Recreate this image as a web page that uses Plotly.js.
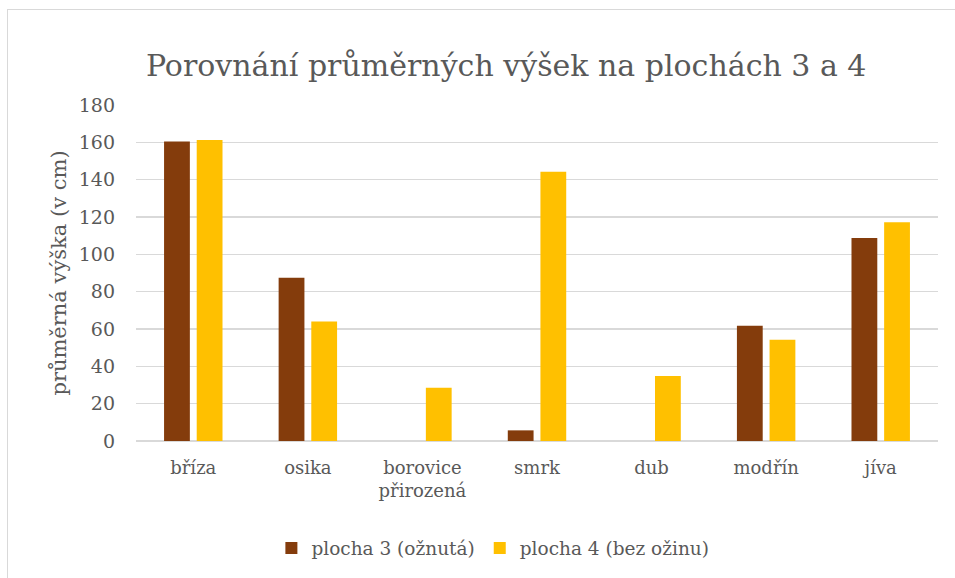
<!DOCTYPE html>
<html>
<head>
<meta charset="utf-8">
<script src="https://cdn.plot.ly/plotly-3.0.1.min.js"></script>
<style>
  html, body { margin: 0; padding: 0; background: #fff; }
  #wrap { position: relative; width: 955px; height: 578px; overflow: hidden; }
  #chart { width: 955px; height: 578px; }
  #frame { position: absolute; left: 7px; top: 9px; width: 980px; height: 600px;
           border: 1.5px solid #D9D9D9; pointer-events: none; box-sizing: border-box; }
</style>
</head>
<body>
<div id="wrap">
  <div id="chart"></div>
  <div id="frame"></div>
</div>
<script>
const categories = ["bříza", "osika", "borovice<br>přirozená", "smrk", "dub", "modřín", "jíva"];
const plocha3 = [160.5, 87.5, null, 5.7, null, 61.7, 108.8];
const plocha4 = [161.3, 64.0, 28.5, 144.3, 34.8, 54.3, 117.2];
const seriesNames = ["plocha 3 (ožnutá)", "plocha 4 (bez ožinu)"];
const yTicks = [0, 20, 40, 60, 80, 100, 120, 140, 160, 180];

const textColor = "#595959";
const fontFamily = "DejaVu Serif";

const traces = [
  { type: "bar", name: seriesNames[0], x: categories, y: plocha3,
    marker: { color: "#843C0C", line: { width: 0 } } },
  { type: "bar", name: seriesNames[1], x: categories, y: plocha4,
    marker: { color: "#FFC000", line: { width: 0 } } }
];

const layout = {
  width: 955, height: 578,
  paper_bgcolor: "#ffffff", plot_bgcolor: "#ffffff",
  margin: { l: 136, r: 17, t: 105, b: 137, autoexpand: false },
  font: { family: fontFamily, color: textColor, size: 18 },
  title: { text: "Porovnání průměrných výšek na plochách 3 a 4",
           font: { family: fontFamily, size: 30, color: textColor },
           xref: "container", x: 0.53, xanchor: "center",
           yref: "container", y: 0.887, yanchor: "middle" },
  barmode: "group", bargap: 0.43, bargroupgap: 0.21,
  xaxis: { type: "category", showgrid: false, zeroline: false, showline: false,
           ticks: "", ticklabelstandoff: 14, automargin: false,
           tickfont: { family: fontFamily, size: 18, color: textColor } },
  yaxis: { range: [0, 180], tickvals: yTicks, ticktext: yTicks.map(String),
           showgrid: true, gridcolor: "#D9D9D9", gridwidth: 1.5, automargin: false,
           zeroline: true, zerolinecolor: "#D9D9D9", zerolinewidth: 1.5,
           showline: false, ticks: "", ticklabelstandoff: 20,
           tickfont: { family: fontFamily, size: 19, color: textColor } ,
           title: { text: "průměrná výška (v cm)", standoff: 6,
                    font: { family: fontFamily, size: 21, color: textColor } } },
  legend: { orientation: "h", x: 0.445, xanchor: "center", y: -0.32, yanchor: "middle",
            font: { family: fontFamily, size: 18.5, color: textColor },
            itemwidth: 30, traceorder: "normal" },
  showlegend: true
};

Plotly.newPlot("chart", traces, layout, { displayModeBar: false, staticPlot: true });
</script>
</body>
</html>
